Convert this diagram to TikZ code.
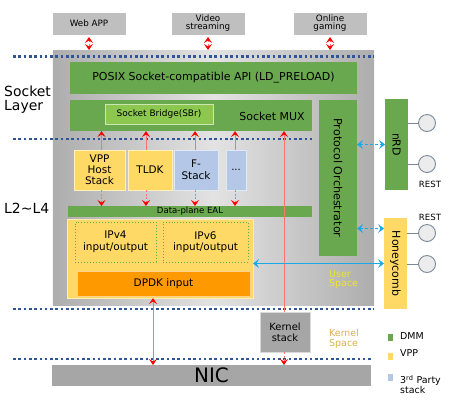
\documentclass[tikz,border=0pt]{standalone}
\usepackage{fontspec}
\setmainfont{DejaVu Sans}
\usetikzlibrary{arrows.meta}
\definecolor{dmm}{HTML}{6AA84F}
\definecolor{vppc}{HTML}{FFD966}
\definecolor{third}{HTML}{B4C7E7}
\definecolor{dpdkc}{HTML}{FF9900}
\definecolor{sbrc}{HTML}{8CC850}
\definecolor{appc}{HTML}{BFBFBF}
\definecolor{nicc}{HTML}{A6A6A6}
\definecolor{dotc}{HTML}{2F5597}
\definecolor{bluearr}{HTML}{1BA8E8}
\definecolor{userc}{HTML}{EEE62A}
\definecolor{kernc}{HTML}{D9B24A}
\definecolor{circc}{HTML}{7A8899}
\newcommand{\fs}[1]{\fontsize{#1}{\dimexpr #1pt*12/10\relax}\selectfont}
\begin{document}
\begin{tikzpicture}[x=1bp,y=-1bp,
  box/.style={inner sep=0pt, outer sep=0pt, align=center},
  gbox/.style={box, fill=dmm},
  ybox/.style={box, fill=vppc, draw=white!60!vppc, line width=0.6bp},
  bbox/.style={box, fill=third, draw=white!60!third, line width=0.6bp},
  appbox/.style={box, fill=appc, draw=white, line width=0.6bp, font=\fs{8.8}},
  dotline/.style={draw=dotc, line width=2.6bp, dash pattern=on 2.6bp off 2.7bp},
  redarr/.style={draw=red!55, line width=0.9bp, -{Stealth[red, length=6bp, width=8bp, inset=2.5bp]}},
  redarr2/.style={redarr, {Stealth[red, length=6bp, width=8bp, inset=2.5bp]}-{Stealth[red, length=6bp, width=8bp, inset=2.5bp]}},
  reddash/.style={dash pattern=on 2bp off 1.5bp},
  bluearr2/.style={draw=bluearr, line width=0.9bp, {Stealth[bluearr, length=6bp, width=9bp, inset=2.5bp]}-{Stealth[bluearr, length=6bp, width=9bp, inset=2.5bp]}},
  bluedash/.style={dash pattern=on 3bp off 2bp},
  circ/.style={circle, draw=circc, fill=gray!15, line width=0.9bp, minimum size=17bp, inner sep=0pt},
  lbl/.style={inner sep=0pt, align=left}
]
\useasboundingbox (0,0) rectangle (450,405);

% apps
\node[appbox, minimum width=74bp, minimum height=23bp] (web) at (89,23.5) {Web APP};
\node[appbox, minimum width=74bp, minimum height=23bp] (video) at (208,23.5) {Video\\[-2.5pt]streaming};
\node[appbox, minimum width=74bp, minimum height=23bp] (game) at (330,23.5) {Online\\[-2.5pt]gaming};

% main gray box
\node[box, minimum width=321bp, minimum height=255bp, left color=gray!64, right color=gray!64, middle color=gray!22] (main) at (213.5,177.5) {};

% dotted lines
\coordinate (d1a) at (13,56.5); \coordinate (d1b) at (374,56.5);
\coordinate (d2a) at (13,139); \coordinate (d2b) at (313,139);
\coordinate (d3a) at (13,309); \coordinate (d3b) at (374,309);
\coordinate (d4a) at (13,359); \coordinate (d4b) at (372,359);
\draw[dotline] (d1a) -- (d1b);
\draw[dotline] (d2a) -- (d2b);
\draw[dotline] (d3a) -- (d3b);
\draw[dotline] (d4a) -- (d4b);

% DMM boxes
\node[gbox, minimum width=287bp, minimum height=32bp, font=\fs{11}] (posix) at (213.5,78) {POSIX Socket-compatible API (LD\_PRELOAD)};
\node[gbox, minimum width=242bp, minimum height=31bp] (mux) at (191,115.5) {};
\node[box, fill=sbrc, draw=white!55!sbrc, line width=0.8bp, minimum width=108bp, minimum height=20bp, font=\fs{9}] (sbr) at (159,114) {Socket Bridge(SBr)};
\node[lbl, font=\fs{11}] (muxlbl) at (272,116) {Socket MUX};
\node[gbox, minimum width=38bp, minimum height=156bp] (po) at (338,178) {};
\node[lbl, font=\fs{11.2}, rotate=-90] (polbl) at (po.center) {Protocol Orchestrator};

% stacks
\node[ybox, minimum width=51bp, minimum height=40bp, font=\fs{10.5}] (vpphs) at (99.5,170) {VPP\\[-1.5pt]Host\\[-1.5pt]Stack};
\node[ybox, minimum width=44bp, minimum height=40bp, font=\fs{10.5}] (tldk) at (150,170) {TLDK};
\node[bbox, minimum width=44bp, minimum height=40bp, font=\fs{10.5}] (fstack) at (196,170) {F-\\[-1pt]Stack};
\node[bbox, minimum width=20bp, minimum height=40bp, font=\fs{10}] (more) at (236,170) {...};

% EAL
\node[gbox, minimum width=244bp, minimum height=11bp, font=\fs{8.6}] (eal) at (190,211.5) {Data-plane EAL};

% VPP block
\node[box, fill=vppc, draw=white!50!vppc, line width=0.8bp, minimum width=186bp, minimum height=79bp] (vppb) at (160,258.5) {};
\node[box, draw=dmm, dotted, line width=1bp, minimum width=81bp, minimum height=40bp, font=\fs{10.5}] (ipv4) at (115.5,242) {IPv4\\[-1pt]input/output};
\node[box, draw=dmm, dotted, line width=1bp, minimum width=85bp, minimum height=40bp, font=\fs{10.5}] (ipv6) at (205.5,242) {IPv6\\[-1pt]input/output};
\node[box, fill=dpdkc, draw=white!55!dpdkc, line width=0.8bp, minimum width=173bp, minimum height=25bp, font=\fs{10.5}] (dpdk) at (163.5,283.5) {DPDK input};

% kernel, NIC
\node[box, fill=nicc, draw=gray!30, line width=0.6bp, minimum width=50bp, minimum height=40bp, font=\fs{10}] (kern) at (285,332) {Kernel\\[-1pt]stack};
\node[box, fill=nicc, minimum width=319bp, minimum height=21bp, font=\fs{20}] (nic) at (211.5,375.5) {NIC};

% right side
\node[gbox, minimum width=23bp, minimum height=91bp] (nrd) at (396.5,144.5) {};
\node[lbl, font=\fs{11}, rotate=-90] (nrdlbl) at (nrd.center) {nRD};
\node[box, fill=vppc, minimum width=23bp, minimum height=91bp] (hc) at (395.5,263.5) {};
\node[lbl, font=\fs{11}, rotate=-90] (hclbl) at (hc.center) {Honeycomb};
\node[circ] (c1) at (427,123) {};
\node[circ] (c2) at (427,164) {};
\node[circ] (c3) at (427,233) {};
\node[circ] (c4) at (427,264) {};
\draw[circc, line width=0.9bp] (nrd.east |- c1) -- (c1);
\draw[circc, line width=0.9bp] (nrd.east |- c2) -- (c2);
\draw[circc, line width=0.9bp] (hc.east |- c3) -- (c3);
\draw[circc, line width=0.9bp] (hc.east |- c4) -- (c4);
\node[font=\fs{8.6}, inner sep=0pt] (rest1) at (430,184) {REST};
\node[font=\fs{8.6}, inner sep=0pt] (rest2) at (430,217.5) {REST};

% left labels
\node[lbl, font=\fs{14}, anchor=west] (sl) at (4,100) {Socket\\[-2.5pt]Layer};
\node[lbl, font=\fs{14}, anchor=west] (l24) at (4,208) {L2\textasciitilde L4};
\node[lbl, font=\fs{9.5}, text=userc, anchor=west] (us) at (329,279.5) {User\\[-1.5pt]Space};
\node[lbl, font=\fs{9.5}, text=kernc, anchor=west] (ks) at (329,338.5) {Kernel\\[-1.5pt]Space};

% legend
\node[box, fill=dmm, minimum width=5bp, minimum height=7bp] (lg1) at (390.5,337.5) {};
\node[lbl, font=\fs{9.5}, anchor=west] (lt1) at (400,336) {DMM};
\node[box, fill=vppc, minimum width=5bp, minimum height=7bp] (lg2) at (390.5,356.5) {};
\node[lbl, font=\fs{9.5}, anchor=west] (lt2) at (400,353) {VPP};
\node[box, fill=third, minimum width=5bp, minimum height=7bp] (lg3) at (390.5,377) {};
\node[lbl, font=\fs{9.5}, anchor=west] (lt3) at (400,384.5) {3\textsuperscript{rd} Party\\[-1.5pt]stack};

% red arrows
\draw[redarr2, reddash] ([yshift=-2bp]web.south) -- (web.south |- main.north);
\draw[redarr2, reddash] ([yshift=-2bp]video.south) -- (video.south |- main.north);
\draw[redarr2, reddash] ([yshift=-2bp]game.south) -- (game.south |- main.north);
\foreach \s/\dx in {vpphs/2, tldk/-4, fstack/-1, more/-1} {
  \draw[redarr] ([xshift=\dx bp]\s.north) -- ([xshift=\dx bp]\s.north |- mux.south);
  \draw[redarr, reddash] ([xshift=\dx bp]\s.south) -- ([xshift=\dx bp]\s.south |- eal.north);
}
\draw[redarr] ([xshift=-1bp]kern.north) -- ([xshift=-1bp]kern.north |- mux.south);
\draw[redarr, reddash] ([xshift=-1bp]kern.south) -- ([xshift=-1bp]kern.south |- nic.north);
\draw[redarr2] ([xshift=-7bp]vppb.south) -- ([xshift=-7bp]vppb.south |- nic.north);

% blue arrows
\draw[bluearr2, bluedash] (po.east |- nrd.west) -- (nrd.west);
\draw[bluearr2, bluedash] ([yshift=35bp]po.east |- hc.west) -- ([yshift=35bp]hc.west);
\draw[bluearr2] (vppb.east |- hc.west) -- (hc.west);
\end{tikzpicture}
\end{document}
